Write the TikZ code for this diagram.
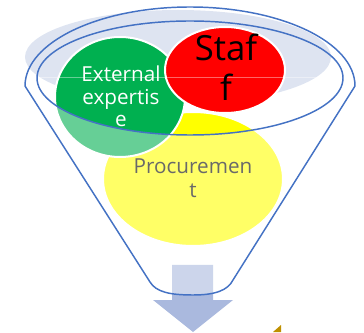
\documentclass[tikz,border=0pt]{standalone}
\usepackage{fontspec}
\setmainfont{Open Sans}
\definecolor{funnelblue}{RGB}{68,114,196}
\definecolor{rimshade}{RGB}{222,228,241}
\definecolor{staffred}{RGB}{255,0,0}
\definecolor{expgreen}{RGB}{0,176,80}
\definecolor{procyellow}{RGB}{255,255,0}
\definecolor{arrowblue}{RGB}{170,185,222}
\definecolor{textgray}{RGB}{105,105,105}
\definecolor{darkgold}{RGB}{191,144,0}

\begin{document}
\begin{tikzpicture}[x=0.75pt,y=0.75pt,
		bubble/.style={draw=white,line width=1.5pt},
		rim/.style={draw=funnelblue,line width=1.1pt},
		label/.style={align=center,inner sep=0pt}]
		\useasboundingbox (0,0) rectangle (364,332);
		% shading at the mouth of the funnel
		\fill[rimshade] (178,275) ellipse [x radius=153,y radius=47];
		% the three ingredients
		\draw[bubble,fill=procyellow] (193,153) ellipse [x radius=90,y radius=67];
		\draw[bubble,fill=expgreen] (120,235) ellipse [x radius=65,y radius=60];
		\draw[bubble,fill=staffred] (225,262) ellipse [x radius=60,y radius=43];
		% output arrow
		\fill[arrowblue] (172,67) -- (213,67) -- (213,32) -- (233,32) -- (193,0) -- (153,32) -- (172,32) -- cycle;
		% glass of the funnel below the rim
		\begin{scope}
			\clip (0,0) rectangle (364,254);
			\fill[white,opacity=0.4,even odd rule] (20,254) -- (25,246) -- (150,50)
				.. controls (156,40) and (170,37) .. (193,37)
				.. controls (216,37) and (228,42) .. (233,52)
				-- (355,246) -- (360,254) -- cycle
				(190,254) ellipse [x radius=153,y radius=57];
		\end{scope}
		% funnel outline
		\draw[rim] (190,254) ellipse [x radius=153,y radius=57];
		\draw[rim,line join=round] (150,50) -- (25,246) arc[start angle=180,end angle=0,x radius=165,y radius=79]
			-- (233,52) .. controls (228,42) and (216,37) .. (193,37)
			.. controls (170,37) and (156,40) .. (150,50);
		\fill[darkgold] (273,0) -- (281,7) -- (281,0) -- cycle;
		% labels
		\node[label,font=\fontsize{26}{30}\selectfont] (staff) at (226,265) {Staf\\f};
		\node[label,white,font=\fontsize{15.5}{17}\selectfont] (expertise) at (121,235.5) {External\\expertis\\e};
		\node[label,textgray,font=\fontsize{15.5}{18}\selectfont] (procurement) at (193,153.5) {Procuremen\\t};
\end{tikzpicture}
\end{document}
